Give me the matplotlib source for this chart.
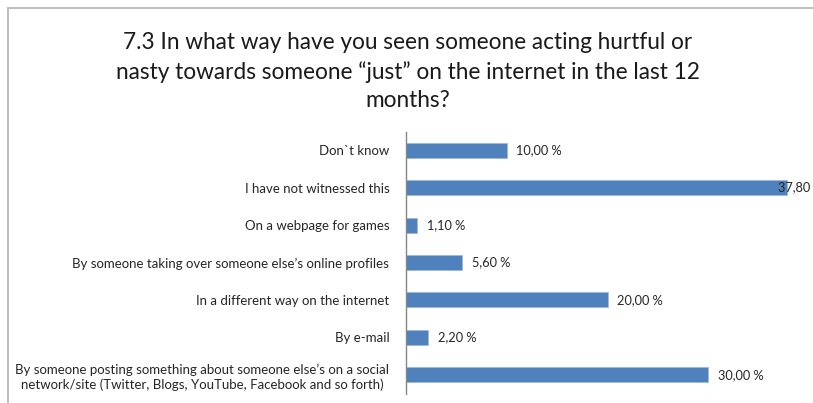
import matplotlib
matplotlib.use("Agg")
import matplotlib.pyplot as plt
from matplotlib.patches import Rectangle

categories = [
    "Don`t know",
    "I have not witnessed this",
    "On a webpage for games",
    "By someone taking over someone else’s online profiles",
    "In a different way on the internet",
    "By e-mail",
    "By someone posting something about someone else’s on a social\nnetwork/site (Twitter, Blogs, YouTube, Facebook and so forth)",
]
values = [10.0, 37.8, 1.1, 5.6, 20.0, 2.2, 30.0]
value_labels = ["10,00 %", "37,80 %", "1,10 %", "5,60 %", "20,00 %", "2,20 %", "30,00 %"]
title = "7.3 In what way have you seen someone acting hurtful or\nnasty towards someone “just” on the internet in the last 12\nmonths?"

W, H = 813, 403
fig = plt.figure(figsize=(W / 100, H / 100), dpi=100)
fig.patch.set_facecolor("white")

font = "Lato"
text_color = "#262626"

# chart area frame (runs off the right and bottom edges)
fig.patches.append(Rectangle((8 / W, -0.05), 1.1, 1 - 8 / H + 0.05,
                             transform=fig.transFigure, fill=False,
                             edgecolor="#bfbfbf", linewidth=1.5))

left, right = 406, 809
top, bottom = 131.5, 393.5
ax = fig.add_axes([left / W, 1 - bottom / H, (right - left) / W, (bottom - top) / H])
ax.set_facecolor("none")

y = list(range(len(categories)))
ax.barh(y, values, height=0.4, color="#4f81bd", edgecolor="#9bb7d9", linewidth=0.5)
ax.set_xlim(0, 40)
ax.set_ylim(len(categories) - 0.5, -0.5)

for yi, v, lab in zip(y, values, value_labels):
    if v > 35:
        ax.text(v - 0.85, yi, lab, va="center", ha="left", fontsize=9.2,
                family=font, color=text_color, clip_on=False)
    else:
        ax.text(v + 0.95, yi, lab, va="center", ha="left", fontsize=9.2,
                family=font, color=text_color)

ax.set_yticks(y)
ax.set_yticklabels(categories, fontsize=9.5, family=font, color=text_color,
                   multialignment="center", linespacing=1.25)
ax.tick_params(axis="y", length=0, pad=12)
ax.set_xticks([])
for s in ["top", "right", "bottom"]:
    ax.spines[s].set_visible(False)
ax.spines["left"].set_color("#868686")
ax.spines["left"].set_linewidth(1.0)

fig.text(408 / W, 1 - 71.5 / H, title, ha="center", va="center", fontsize=16.3,
         family=font, color="#1a1a1a", linespacing=1.45)

fig.savefig("out.png", dpi=100)
